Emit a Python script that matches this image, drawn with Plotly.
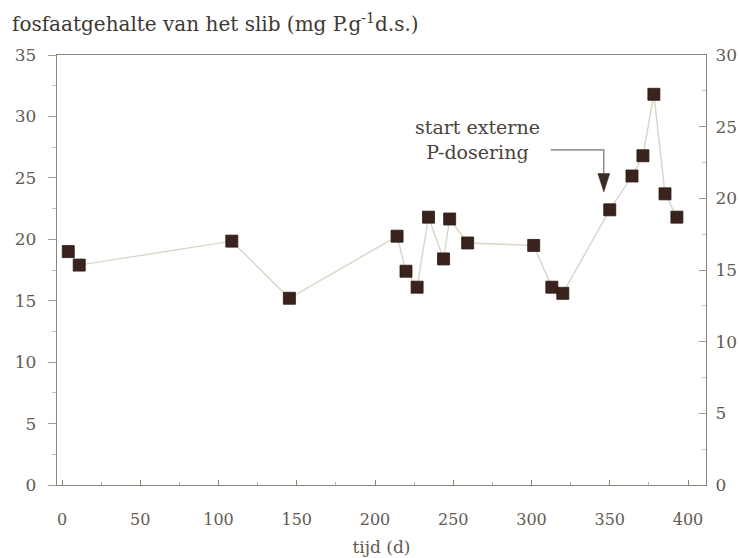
import plotly.graph_objects as go

# Sludge phosphate content over time
tijd = [4, 11, 108.5, 145.3, 214.1, 219.8, 226.9, 234.2, 243.8, 247.7, 259.2,
        301.4, 313, 320, 350, 364.2, 371.2, 378.2, 385.3, 392.9]
fosfaat = [19.0, 17.9, 19.85, 15.2, 20.25, 17.4, 16.1, 21.8, 18.4, 21.65, 19.7,
           19.5, 16.1, 15.6, 22.4, 25.15, 26.8, 31.8, 23.7, 21.8]

left_ticks = [0, 5, 10, 15, 20, 25, 30, 35]
right_ticks = [0, 5, 10, 15, 20, 25, 30]
x_ticks = [0, 50, 100, 150, 200, 250, 300, 350, 400]

FONT = "DejaVu Serif"
AXIS_COLOR = "#8c8478"
TEXT_COLOR = "#625a52"

W, H = 739, 558
ML, MR, MT, MB = 57, 33, 55, 73
PW, PH = W - ML - MR, H - MT - MB

fig = go.Figure()
fig.add_trace(go.Scatter(
    x=tijd, y=fosfaat, mode="lines+markers",
    line=dict(color="#dcd5c6", width=1.4),
    marker=dict(symbol="square", size=12, color="#3a231d",
                line=dict(color="#2a1812", width=0.8)),
    showlegend=False, hoverinfo="x+y",
))
# empty trace so the secondary scale is rendered
fig.add_trace(go.Scatter(x=[None], y=[None], yaxis="y2", showlegend=False,
                         hoverinfo="skip"))

# elbow arrow pointing at the start of external P dosing
fig.add_shape(type="path", xref="x", yref="y",
              path="M 312.3,27.27 L 346.2,27.27 L 346.2,25.3",
              line=dict(color="#7a7268", width=1.2))
fig.add_shape(type="path", xref="x", yref="y",
              path="M 342.4,25.35 L 350.0,25.35 L 346.2,23.85 Z",
              fillcolor="#3a2a24", line=dict(color="#3a2a24", width=0.5))

fig.add_annotation(x=265.5, y=28.1, xref="x", yref="y",
                   text="start externe<br>P-dosering", showarrow=False,
                   font=dict(family=FONT, size=19, color="#4a433c"),
                   align="center")

fig.add_annotation(x=(10 - ML) / PW, y=1 + (MT - 23) / PH,
                   xref="paper", yref="paper",
                   text="fosfaatgehalte van het slib (mg P.g<sup>-1</sup>d.s.)",
                   showarrow=False, xanchor="left", yanchor="middle",
                   font=dict(family=FONT, size=20, color="#3e3833"))

fig.update_layout(
    width=W, height=H,
    margin=dict(l=ML, r=MR, t=MT, b=MB, autoexpand=False),
    paper_bgcolor="white", plot_bgcolor="white",
    font=dict(family=FONT, size=16, color=TEXT_COLOR),
    xaxis=dict(
        range=[-3.2, 411.5], tickvals=x_ticks, ticktext=[str(v) for v in x_ticks],
        automargin=False,
        showgrid=False, zeroline=False, showline=True, linecolor=AXIS_COLOR,
        linewidth=1.3, mirror=True, ticks="inside", ticklen=5, tickcolor=AXIS_COLOR,
        ticklabelstandoff=20,
        minor=dict(ticks="inside", ticklen=3, tickcolor="#b8b0a4", dtick=25),
        title=dict(text="tijd (d)", font=dict(family=FONT, size=17, color=TEXT_COLOR),
                   standoff=12),
    ),
    yaxis=dict(
        range=[0, 35], tickvals=left_ticks, ticktext=[str(v) for v in left_ticks],
        automargin=False,
        showgrid=False, zeroline=False, showline=True, linecolor=AXIS_COLOR,
        linewidth=1.3, ticks="outside", ticklen=8, tickcolor="#a49c90",
        ticklabelstandoff=8, tickfont=dict(size=17),
        minor=dict(ticks="outside", ticklen=4, tickcolor="#c8c0b4", dtick=2.5),
    ),
    yaxis2=dict(
        range=[0, 30], tickvals=right_ticks, ticktext=[str(v) for v in right_ticks],
        overlaying="y", side="right", anchor="x", automargin=False,
        showgrid=False, zeroline=False, showline=True, linecolor=AXIS_COLOR,
        linewidth=1.3, ticks="inside", ticklen=7, tickcolor="#a49c90",
        ticklabelstandoff=5, tickfont=dict(size=17),
        minor=dict(ticks="inside", ticklen=4, tickcolor="#c8c0b4", dtick=2.5),
    ),
)

fig.write_html("out.html")
